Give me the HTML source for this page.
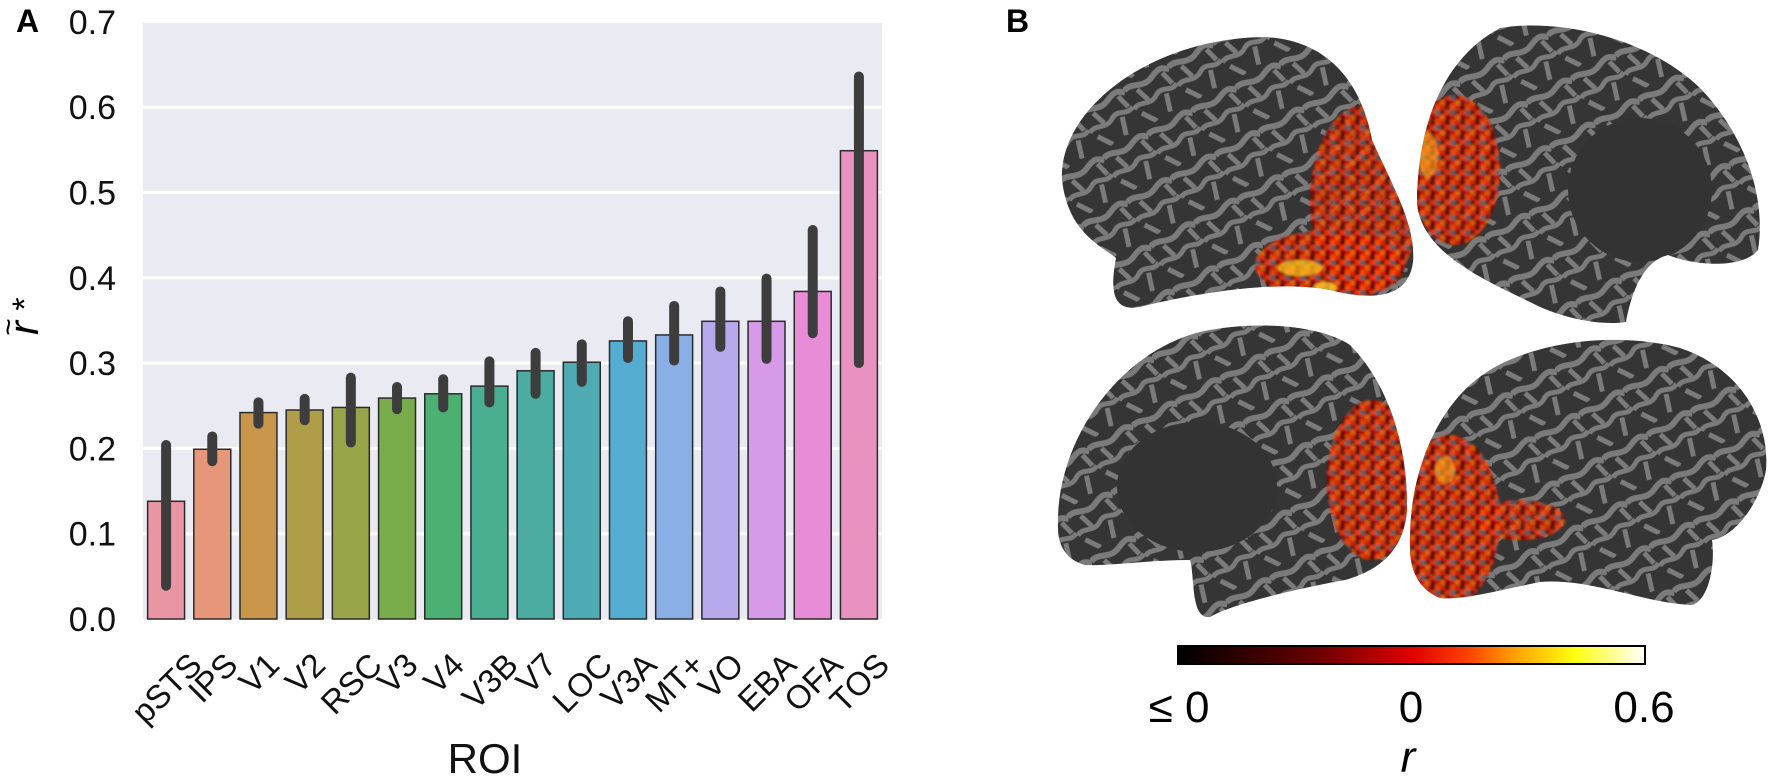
<!DOCTYPE html>
<html><head><meta charset="utf-8">
<style>
html,body{margin:0;padding:0;background:#fff;}
svg{display:block;font-family:"Liberation Sans",sans-serif;}
</style></head>
<body>
<svg id="fig" width="1772" height="779" viewBox="0 0 1772 779">
<defs>
  <pattern id="sulci" width="50" height="50" patternUnits="userSpaceOnUse" patternTransform="rotate(-28)">
    <rect width="50" height="50" fill="#353535"/>
    <path d="M0,8 C10,3 18,15 30,9 S44,5 50,10" stroke="#7b7b7b" stroke-width="6" fill="none"/>
    <path d="M0,29 C8,23 16,34 26,27 S40,32 50,26" stroke="#7b7b7b" stroke-width="5" fill="none"/>
    <path d="M12,13 L17,27 M36,30 L31,48 M5,36 L15,50 M42,10 L46,24" stroke="#7b7b7b" stroke-width="5" fill="none"/>
  </pattern>
  <pattern id="act" width="15" height="15" patternUnits="userSpaceOnUse">
    <rect width="15" height="15" fill="#b01000"/>
    <rect x="0" y="0" width="5" height="5" fill="#e82000"/>
    <rect x="5" y="0" width="5" height="5" fill="#5a0a05"/>
    <rect x="10" y="0" width="5" height="5" fill="#ff4a00"/>
    <rect x="0" y="5" width="5" height="5" fill="#7a1a10"/>
    <rect x="5" y="5" width="5" height="5" fill="#ff3000"/>
    <rect x="10" y="5" width="5" height="5" fill="#606060"/>
    <rect x="0" y="10" width="5" height="5" fill="#f06000"/>
    <rect x="5" y="10" width="5" height="5" fill="#8a0000"/>
    <rect x="10" y="10" width="5" height="5" fill="#d81800"/>
  </pattern>
  <filter id="soft"><feGaussianBlur stdDeviation="1"/></filter>
  <linearGradient id="cbar" x1="0" x2="1" y1="0" y2="0">
    <stop offset="0" stop-color="#000000"/>
    <stop offset="0.3" stop-color="#6a0000"/>
    <stop offset="0.5" stop-color="#e00000"/>
    <stop offset="0.62" stop-color="#ff4000"/>
    <stop offset="0.72" stop-color="#ffa000"/>
    <stop offset="0.85" stop-color="#ffff10"/>
    <stop offset="1" stop-color="#ffffff"/>
  </linearGradient>
  <clipPath id="cTL"><path d="M1062,180 C1058,110 1150,38 1265,37 C1330,40 1362,85 1372,140 C1392,185 1416,225 1413,262 C1408,300 1370,300 1330,290 C1280,280 1200,292 1140,307 C1112,312 1110,290 1116,258 C1100,245 1068,232 1062,180 Z"/></clipPath>
  <clipPath id="cTR"><path d="M1417,200 C1418,130 1440,60 1500,28 C1560,18 1650,38 1702,90 C1748,140 1766,200 1758,250 C1742,270 1692,265 1668,255 C1640,262 1630,300 1626,322 C1600,326 1560,318 1530,302 C1480,278 1418,250 1417,200 Z"/></clipPath>
  <clipPath id="cBL"><path d="M1058,528 C1055,440 1120,352 1200,332 C1255,320 1320,325 1350,345 C1385,380 1408,440 1407,510 C1404,550 1380,570 1345,580 C1290,590 1230,605 1210,617 C1190,620 1195,575 1190,560 C1150,560 1110,566 1085,565 C1066,560 1058,545 1058,528 Z"/></clipPath>
  <clipPath id="cBR"><path d="M1410,548 C1408,470 1440,400 1490,370 C1540,340 1620,332 1680,348 C1740,368 1770,420 1766,470 C1762,495 1740,535 1712,540 C1716,570 1706,605 1690,605 C1640,602 1590,578 1540,582 C1500,590 1465,600 1440,598 C1420,590 1410,572 1410,548 Z"/></clipPath>
</defs>

<text x="16" y="32" font-size="32" font-weight="bold">A</text>
<text x="1006" y="32" font-size="32" font-weight="bold">B</text>

<g id="chart"></g>

<g>
  <g clip-path="url(#cTL)">
    <rect x="1050" y="30" width="370" height="290" fill="url(#sulci)"/>
    <g filter="url(#soft)">
    <ellipse cx="1365" cy="200" rx="55" ry="95" fill="url(#act)" opacity="0.8"/>
    <ellipse cx="1330" cy="265" rx="75" ry="35" fill="url(#act)" opacity="0.85"/>
    <ellipse cx="1300" cy="268" rx="22" ry="8" fill="#ffd020" opacity="0.7"/>
    <ellipse cx="1325" cy="288" rx="12" ry="6" fill="#ffe030" opacity="0.7"/>
    </g>
  </g>
  <g clip-path="url(#cTR)">
    <rect x="1410" y="15" width="360" height="320" fill="url(#sulci)"/>
    <ellipse cx="1640" cy="190" rx="72" ry="72" fill="#333"/>
    <g filter="url(#soft)">
    <ellipse cx="1455" cy="170" rx="45" ry="75" fill="url(#act)" opacity="0.85"/>
    <ellipse cx="1428" cy="155" rx="10" ry="22" fill="#ffb020" opacity="0.6"/>
    </g>
  </g>
  <g clip-path="url(#cBL)">
    <rect x="1050" y="320" width="365" height="305" fill="url(#sulci)"/>
    <ellipse cx="1197" cy="487" rx="80" ry="65" fill="#333"/>
    <ellipse cx="1372" cy="480" rx="45" ry="80" fill="url(#act)" opacity="0.85" filter="url(#soft)"/>
  </g>
  <g clip-path="url(#cBR)">
    <rect x="1400" y="330" width="372" height="280" fill="url(#sulci)"/>
    <g filter="url(#soft)">
    <ellipse cx="1450" cy="520" rx="50" ry="85" fill="url(#act)" opacity="0.85"/>
    <ellipse cx="1520" cy="520" rx="45" ry="20" fill="url(#act)" opacity="0.8"/>
    <ellipse cx="1445" cy="470" rx="10" ry="14" fill="#ffb020" opacity="0.6"/>
    </g>
  </g>
  <rect x="1178" y="646" width="467" height="18" fill="url(#cbar)" stroke="#000" stroke-width="2"/>
  <text x="1179" y="722" font-size="44" text-anchor="middle">≤ 0</text>
  <text x="1411" y="722" font-size="44" text-anchor="middle">0</text>
  <text x="1644" y="722" font-size="44" text-anchor="middle">0.6</text>
  <text x="1408" y="772" font-size="44" font-style="italic" text-anchor="middle">r</text>
</g>
<g transform="rotate(-90 22 320)">
  <text x="14" y="336" font-size="42" font-style="italic" text-anchor="middle">r</text>
  <text x="15" y="316" font-size="30" text-anchor="middle">~</text>
  <text x="38" y="334" font-size="34" text-anchor="middle">*</text>
</g>
</svg>
<script>
const categories = ["pSTS","IPS","V1","V2","RSC","V3","V4","V3B","V7","LOC","V3A","MT+","VO","EBA","OFA","TOS"];
const means = [0.138,0.199,0.242,0.245,0.248,0.259,0.264,0.273,0.291,0.301,0.326,0.333,0.349,0.349,0.384,0.549];
const ciLow = [0.039,0.185,0.229,0.233,0.207,0.246,0.248,0.254,0.264,0.278,0.306,0.303,0.319,0.305,0.335,0.300];
const ciHigh = [0.204,0.214,0.254,0.258,0.283,0.272,0.281,0.302,0.312,0.322,0.349,0.367,0.384,0.399,0.456,0.636];
const colors = ["#ea95a3","#e7967a","#c9964b","#b09d48","#9aa448","#79ad4b","#4bb072","#4aae90","#4caca2","#4eabb3","#54add0","#8aaee6","#b8a8ec","#d79ae8","#e98cd8","#e992bf"];
const yTicks = [0.0,0.1,0.2,0.3,0.4,0.5,0.6,0.7];

const NS = "http://www.w3.org/2000/svg";
const g = document.getElementById('chart');
const L = 143, R = 882, T = 23, B = 619;
const y = v => B - v * 853;
const band = (R - L) / categories.length;
const x = i => L + band * (i + 0.5);
function mk(tag, attrs, parent) {
  const e = document.createElementNS(NS, tag);
  for (const k in attrs) e.setAttribute(k, attrs[k]);
  (parent || g).appendChild(e);
  return e;
}
const bg = mk('rect', {x: L, y: T, width: R - L, height: B - T, fill: '#eaeaf2'});


yTicks.forEach(t => {
  if (t > 0 && t < 0.7) {
    const gl = mk('line', {x1: L, x2: R, y1: y(t), y2: y(t), stroke: '#fff', 'stroke-width': 3});
    
    
  }
  const tl = mk('text', {x: 116, y: y(t) + 12, 'font-size': 34, 'text-anchor': 'end', fill: '#111'});
  tl.textContent = t.toFixed(1);
  
  
});
categories.forEach((c, i) => {
  const w = band * 0.8;
  const b = mk('rect', {x: x(i) - w / 2, y: y(means[i]), width: w, height: y(0) - y(means[i]), fill: colors[i], stroke: '#2a2a2a', 'stroke-width': 1.5});
  
  
  const e = mk('line', {x1: x(i), x2: x(i), y1: y(ciLow[i]), y2: y(ciHigh[i]), stroke: '#3d3d3d', 'stroke-width': 10, 'stroke-linecap': 'round'});
  
  
  const t = mk('text', {'font-size': 33, 'text-anchor': 'middle', fill: '#111'});
  t.textContent = c;
  
  
  const tw = t.getComputedTextLength();
  const hb = (tw + 24) * 0.7071;
  const cy = 650 + hb / 2;
  t.setAttribute('x', x(i));
  t.setAttribute('y', cy + 12);
  t.setAttribute('transform', 'rotate(-45 ' + x(i) + ' ' + cy + ')');
});
const xt = mk('text', {x: 485, y: 773, 'font-size': 42, 'text-anchor': 'middle', fill: '#111'});
xt.textContent = 'ROI';


</script>
</body></html>
